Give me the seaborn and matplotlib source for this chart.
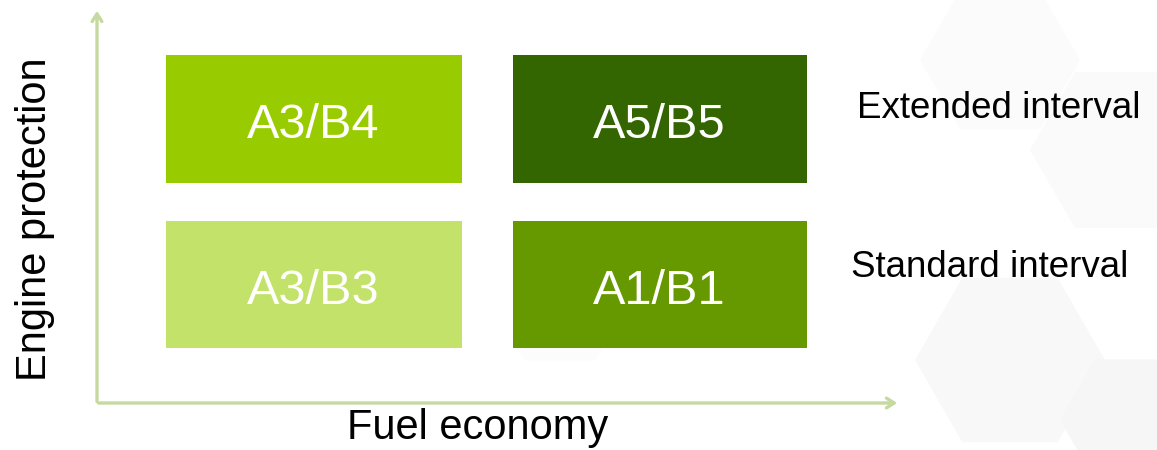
import numpy as np
import matplotlib
matplotlib.use('Agg')
import matplotlib.pyplot as plt
from matplotlib.colors import ListedColormap
from matplotlib.patches import RegularPolygon
import seaborn as sns

# grid of oil categories: rows = engine protection (top = extended), cols = fuel economy
row_labels = ['Extended interval', 'Standard interval']
cell_labels = [['A3/B4', 'A5/B5'],
               ['A3/B3', 'A1/B1']]
# shade index per cell (0 = lightest green ... 3 = darkest)
shade = [[1, 3],
         [0, 2]]
greens = ['#c3e26a', '#99cc00', '#669900', '#336600']

sns.set_style('white')
plt.rcParams['font.family'] = ['Liberation Sans', 'DejaVu Sans']

fig = plt.figure(figsize=(11.57, 4.5), dpi=100)
W, H = 1157, 450

# faint hexagon background
bg = fig.add_axes([0, 0, 1, 1])
bg.set_xlim(0, W)
bg.set_ylim(H, 0)
bg.axis('off')
for cx, cy, r, c in [(1010, 360, 95, '#f8f8f8'), (1120, 150, 90, '#fafafa'),
                     (1000, 60, 80, '#fbfbfb'), (1130, 420, 70, '#f6f6f6'),
                     (560, 300, 70, '#fcfcfc')]:
    bg.add_patch(RegularPolygon((cx, cy), 6, radius=r, orientation=np.pi / 6,
                                facecolor=c, edgecolor='none'))

# heatmap of the four boxes
x0, x1, y0, y1 = 166, 807, 55, 348
gap_x, gap_y = 51, 38
ax = fig.add_axes([x0 / W, 1 - y1 / H, (x1 - x0) / W, (y1 - y0) / H])
sns.heatmap(np.array(shade), ax=ax, cmap=ListedColormap(greens), vmin=-0.5, vmax=3.5,
            cbar=False, xticklabels=False, yticklabels=False)
# gaps between boxes
ax.axvline(1, color='white', lw=gap_x * 72 / 100)
ax.axhline(1, color='white', lw=gap_y * 72 / 100)
ax.patch.set_alpha(0)

# labels centred on the visible part of each cell
dx = gap_x / 2 / ((x1 - x0) / 2) / 2
dy = gap_y / 2 / ((y1 - y0) / 2) / 2
for i, row in enumerate(cell_labels):
    for j, lab in enumerate(row):
        cx = j + 0.5 + (dx if j else -dx)
        cy = i + 0.5 + (dy if i else -dy)
        ax.annotate(lab, (cx, cy), xytext=(0, -14), textcoords='offset points',
                    ha='center', va='baseline', color='white', fontsize=35)

# axis arrows
arrow_kw = dict(arrowstyle='->,head_length=0.55,head_width=0.35', color='#c5d9a0', lw=2.4)
ox, oy = 97 / W, 1 - 403 / H
bg.annotate('', xy=(97 / W, 1 - 8 / H), xytext=(ox, oy - 0.003), xycoords='figure fraction',
            arrowprops=arrow_kw)
bg.annotate('', xy=(900 / W, oy), xytext=(ox - 0.001, oy), xycoords='figure fraction',
            arrowprops=arrow_kw)

fig.text(478 / W, 1 - 428 / H, 'Fuel economy', fontsize=30, ha='center', va='center',
         color='black')
fig.text(35 / W, 1 - 219 / H, 'Engine protection', fontsize=30, rotation=90,
         ha='center', va='center', color='black')
fig.text(857 / W, 1 - 118 / H, row_labels[0], fontsize=26.5, ha='left', va='baseline',
         color='black')
fig.text(851 / W, 1 - 277 / H, row_labels[1], fontsize=26.5, ha='left', va='baseline',
         color='black')

fig.savefig('out.png', dpi=100)
